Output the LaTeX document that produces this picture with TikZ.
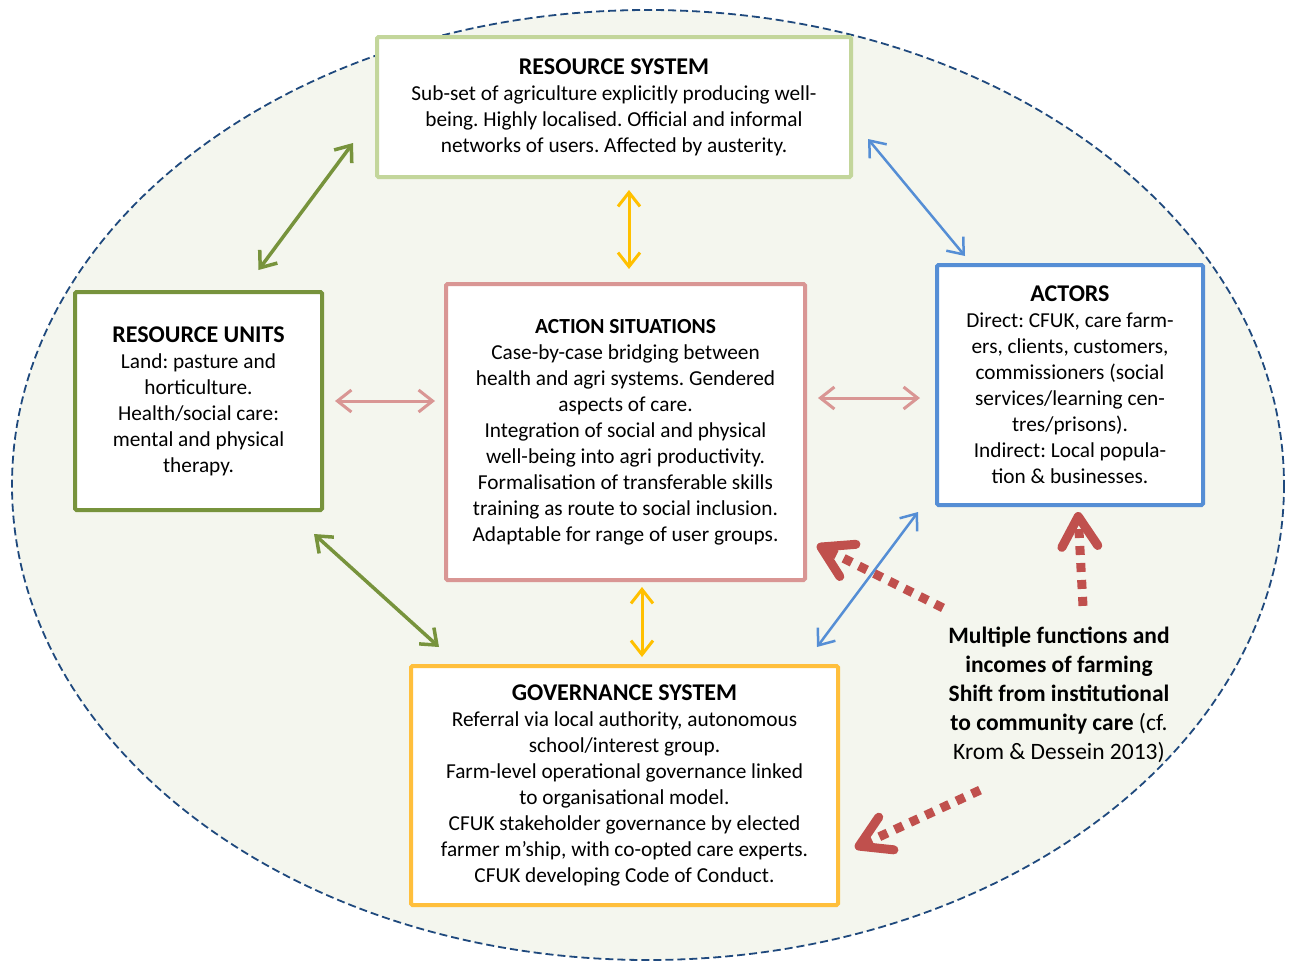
\documentclass[tikz,border=0pt]{standalone}
\usepackage{fontspec}
\setmainfont{Carlito}
\usetikzlibrary{arrows.meta}
\definecolor{sysgreen}{HTML}{C3D69B}
\definecolor{unitgreen}{HTML}{77933C}
\definecolor{actpink}{HTML}{D99694}
\definecolor{actblue}{HTML}{558ED5}
\definecolor{govgold}{HTML}{FFBF3C}
\definecolor{arrowgold}{HTML}{FFC000}
\definecolor{notered}{HTML}{C0504D}
\definecolor{rimblue}{HTML}{1F497D}
\definecolor{groundfill}{HTML}{F4F6EE}
\frenchspacing
\begin{document}
\begin{tikzpicture}[x=1pt,y=-1pt,
        box/.style={draw,fill=white,line width=4pt,rounded corners=1.5pt,align=center,inner sep=0pt,
            font=\fontsize{21.3}{26}\selectfont},
        link/.style={{Straight Barb[length=14pt,width=22pt]}-{Straight Barb[length=14pt,width=22pt]}},
        dots/.style={notered,line width=9pt,dash pattern=on 9pt off 8pt,
            -{Straight Barb[length=30pt,width=36pt,round]}}]
    \useasboundingbox (0,0) rectangle (1294,962);
    \draw[rimblue,line width=1.8pt,dash pattern=on 8pt off 4pt,fill=groundfill] (648,485) ellipse (636 and 475);

    \node[box,draw=sysgreen,minimum width=474pt,minimum height=140pt] (rs) at (614,107)
        {{\bfseries\fontsize{24}{26}\selectfont RESOURCE SYSTEM}\\
        Sub-set of agriculture explicitly producing well-\\
        being. Highly localised. Official and informal\\
        networks of users. Affected by austerity.};
    \node[box,draw=unitgreen,minimum width=247pt,minimum height=218pt] (ru) at (198.5,401)
        {{\bfseries\fontsize{24}{26}\selectfont RESOURCE UNITS}\\
        Land: pasture and\\
        horticulture.\\
        Health/social care:\\
        mental and physical\\
        therapy.};
    \node[box,draw=actpink,minimum width=359pt,minimum height=296pt] (as) at (625.5,432)
        {{\bfseries\fontsize{21.5}{26}\selectfont ACTION SITUATIONS}\\
        Case-by-case bridging between\\
        health and agri systems. Gendered\\
        aspects of care.\\
        Integration of social and physical\\
        well-being into agri productivity.\\
        Formalisation of transferable skills\\
        training as route to social inclusion.\\
        Adaptable for range of user groups.};
    \node[box,draw=actblue,minimum width=266pt,minimum height=240pt] (act) at (1070,385)
        {{\bfseries\fontsize{24}{26}\selectfont ACTORS}\\
        Direct: CFUK, care farm-\\
        ers, clients, customers,\\
        commissioners (social\\
        services/learning cen-\\
        tres/prisons).\\
        Indirect: Local popula-\\
        tion \& businesses.};
    \node[box,draw=govgold,minimum width=427pt,minimum height=239pt] (gs) at (624.5,785.5)
        {{\bfseries\fontsize{24}{26}\selectfont GOVERNANCE SYSTEM}\\
        Referral via local authority, autonomous\\
        school/interest group.\\
        Farm-level operational governance linked\\
        to organisational model.\\
        CFUK stakeholder governance by elected\\
        farmer m’ship, with co-opted care experts.\\
        CFUK developing Code of Conduct.};
    \node[align=center,inner sep=0pt,font=\fontsize{23.5}{29}\selectfont] (note) at (1059,695)
        {\textbf{Multiple functions and}\\
        \textbf{incomes of farming}\\
        \textbf{Shift from institutional}\\
        \textbf{to community care} (cf.\\
        Krom \& Dessein 2013)};

    \draw[link,unitgreen,line width=3.5pt] ([shift={(-22,-36)}]rs.south west) -- ([shift={(60,-20)}]ru.north);
    \draw[link,unitgreen,line width=3.5pt] ([shift={(-10,22)}]ru.south east) -- ([shift={(30,-17)}]gs.north west);
    \draw[link,arrowgold,line width=3pt] ([shift={(15,11)}]rs.south) -- ([shift={(3.5,-13)}]as.north);
    \draw[link,arrowgold,line width=3pt] ([shift={(16.5,5)}]as.south) -- ([shift={(17.5,-7)}]gs.north);
    \draw[link,actpink,line width=3pt] ([shift={(11,0)}]ru.east) -- ([shift={(-9,-31)}]as.west);
    \draw[link,actpink,line width=3pt] ([shift={(11,-34)}]as.east) -- ([shift={(-15,13)}]act.west);
    \draw[link,actblue,line width=2.5pt] ([shift={(15,-40)}]rs.south east) -- ([shift={(30,-7)}]act.north west);
    \draw[link,actblue,line width=2.5pt] ([shift={(-17,5)}]act.south west) -- ([shift={(-23,-17)}]gs.north east);

    \draw[dots] ([shift={(-116,-19)}]note.north) -- ([shift={(10,-37)}]as.south east);
    \draw[dots] ([shift={(24,-21)}]note.north) -- ([shift={(8,5)}]act.south);
    \draw[dots] ([shift={(-79,27)}]note.south) -- ([shift={(15,62.5)}]gs.east);
\end{tikzpicture}
\end{document}
